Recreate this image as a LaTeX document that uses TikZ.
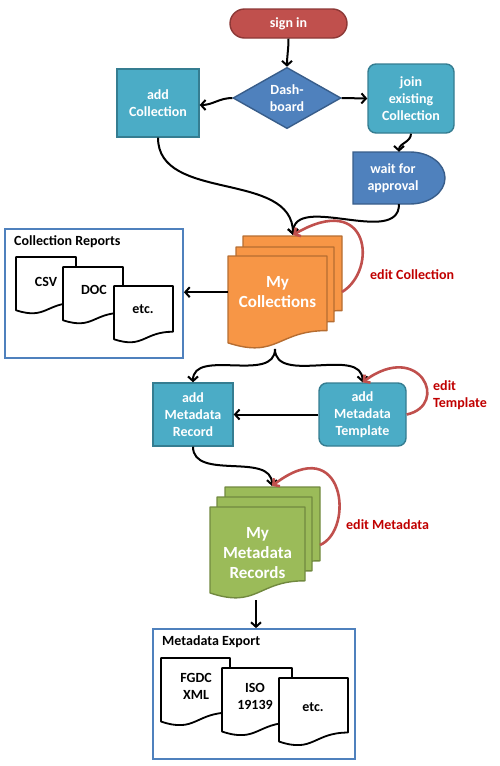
\documentclass[tikz,border=0pt]{standalone}
\usepackage{fontspec}
\setmainfont{Carlito}
\usetikzlibrary{arrows.meta,shapes.geometric,shapes.misc}
\definecolor{signred}{HTML}{C0504D}
\definecolor{signredd}{HTML}{8C3836}
\definecolor{dashb}{HTML}{4F81BD}
\definecolor{dashbd}{HTML}{385D8A}
\definecolor{tealc}{HTML}{4BACC6}
\definecolor{teald}{HTML}{357D91}
\definecolor{orangec}{HTML}{F79646}
\definecolor{oranged}{HTML}{B66D31}
\definecolor{greenc}{HTML}{9BBB59}
\definecolor{greend}{HTML}{71893F}
\definecolor{blueb}{HTML}{4F81BD}
\definecolor{loopred}{HTML}{C0504D}
\definecolor{labelred}{HTML}{C00000}
\newcommand\docsh[5][]{%
  \begin{scope}[shift={(#2,-#3)},xscale=#4,yscale=-#5]
    \draw[#1] (0,0) -- (1,0) -- (1,0.802) .. controls (0.5,0.802) and (0.5,1.1075) .. (0,0.934) -- cycle;
  \end{scope}}
\begin{document}
\begin{tikzpicture}[x=1pt,y=1pt,
  txt/.style={font=\fontsize{14}{17}\selectfont\bfseries, align=center, text=white, inner sep=0pt},
  big/.style={font=\fontsize{17}{20}\selectfont\bfseries, align=center, text=white, inner sep=0pt},
  dtxt/.style={font=\fontsize{14}{17}\selectfont\bfseries, align=center, text=black, inner sep=0pt},
  ttl/.style={font=\fontsize{14}{17}\selectfont\bfseries, text=black, inner sep=0pt},
  redl/.style={font=\fontsize{14}{17}\selectfont\bfseries, text=labelred, align=left, inner sep=0pt},
  tealbox/.style={fill=tealc, draw=teald, line width=1.4pt},
  conn/.style={line width=2pt, -{Straight Barb[length=4.5pt,width=10pt]}},
  loopc/.style={draw=loopred, line width=2.6pt, -{Straight Barb[length=4.5pt,width=10pt]}},
  docw/.style={fill=white, draw=black, line width=1.8pt, line join=round},
  doco/.style={fill=orangec, draw=oranged, line width=1.4pt, line join=round},
  docg/.style={fill=greenc, draw=greend, line width=1.4pt, line join=round},
  blbox/.style={draw=blueb, line width=1.8pt, inner sep=0pt}]
\useasboundingbox (0,0) rectangle (500,-766);

% top
\node[rounded rectangle, fill=signred, draw=signredd, line width=1.4pt, minimum width=117, minimum height=29, txt] (signin) at (288.5,-23.5) {sign in};
\node[diamond, fill=dashb, draw=dashbd, line width=1.4pt, minimum width=108, minimum height=58, txt] (dash) at (287,-98) {Dash-\\board};
\node[rectangle, tealbox, minimum width=82, minimum height=68, txt] (addcol) at (158,-103) {add\\Collection};
\node[rectangle, rounded corners=8pt, tealbox, minimum width=86, minimum height=69, txt] (join) at (411,-98.5) {join\\existing\\Collection};
\path[fill=dashb, draw=dashbd, line width=1.4pt] (353,-152) -- (410,-152) .. controls (429.3,-152) and (445,-163.6) .. (445,-178) .. controls (445,-192.4) and (429.3,-204) .. (410,-204) -- (353,-204) -- cycle;
\node[minimum width=92, minimum height=52, inner sep=0] (wait) at (399,-178) {};
\node[txt] (waitt) at (393,-178) {wait for\\approval};

% collection reports
\node[blbox, minimum width=178, minimum height=129] (cr) at (94,-293.5) {};
\node[ttl, anchor=west] (crt) at (14,-242) {Collection Reports};
\docsh[docw]{16}{257}{60}{57}
\docsh[docw]{63}{267}{60}{57}
\docsh[docw]{114}{286}{59}{57}
\node[dtxt] (csv) at (46,-282) {CSV};
\node[dtxt] (doc) at (94,-290) {DOC};
\node[dtxt] (etc1) at (143,-309) {etc.};

% my collections
\docsh[doco]{243}{236}{99}{93}
\docsh[doco]{236}{247}{98}{93}
\docsh[doco]{228}{256}{99}{93}
\node[big, minimum width=99, minimum height=72, anchor=north] (mc) at (277.5,-256) {My\\Collections};
\coordinate (mctop) at (293,-235);
\coordinate (mcr) at (342,-292);
\coordinate (mcbot) at (275,-349);
\node[redl, anchor=west] (ecl) at (370,-275) {edit Collection};

% metadata
\node[rectangle, tealbox, minimum width=80, minimum height=63, txt] (addmr) at (193,-414.5) {add\\Metadata\\Record};
\node[rectangle, rounded corners=8pt, tealbox, minimum width=87, minimum height=63, txt] (addmt) at (362.5,-414.5) {add\\Metadata\\Template};
\node[redl, anchor=west] (etl) at (433,-395) {edit\\Template};

\docsh[docg]{225}{487}{95}{92}
\docsh[docg]{217}{497}{95}{92}
\docsh[docg]{210}{507}{95}{92}
\node[big, minimum width=95, minimum height=92, anchor=north] (mr) at (257.5,-507) {My\\Metadata\\Records};
\coordinate (mrtop) at (272,-486);
\coordinate (mrr) at (320,-545);
\coordinate (mrbot) at (256,-600);
\node[redl, anchor=west] (eml) at (346,-525) {edit Metadata};

% metadata export
\node[blbox, minimum width=202, minimum height=130] (me) at (254,-694) {};
\node[ttl, anchor=west] (met) at (162,-642) {Metadata Export};
\docsh[docw]{161}{658}{69}{68}
\docsh[docw]{222}{668}{70}{68}
\docsh[docw]{279}{678}{69}{68}
\node[dtxt] (fgdc) at (196,-686) {FGDC\\XML};
\node[dtxt] (iso) at (255,-696) {ISO\\19139};
\node[dtxt] (etc2) at (313,-707) {etc.};

% connectors
\draw[conn] (signin.south) to[out=-90,in=90] (dash.north);
\draw[conn] (dash.west) to[out=180,in=0] ([yshift=-2pt]addcol.east);
\draw[conn] (dash.east) -- (join.west);
\draw[conn] (join.south) to[out=-90,in=90] (wait.north);
\draw[conn] (addcol.south) to[out=-90,in=90] (mctop);
\draw[conn] (wait.south) to[out=-90,in=90] (mctop);
\draw[loopc] (mcr) .. controls (378,-270) and (370,-190) .. (mctop);
\draw[conn] (mc.west) -- (mc.west -| cr.east);
\draw[conn] (mcbot) to[out=-90,in=90] (addmr.north);
\draw[conn] (mcbot) to[out=-90,in=90] (addmt.north);
\draw[conn] (addmt.west) -- (addmr.east);
\draw[loopc] (addmt.east) .. controls (450,-405) and (420,-340) .. (addmt.north);
\draw[conn] (addmr.south) to[out=-90,in=90] (mrtop);
\draw[loopc] (mrr) .. controls (355,-530) and (345,-430) .. (mrtop);
\draw[conn] (mrbot) -- (mrbot |- me.north);
\end{tikzpicture}
\end{document}
